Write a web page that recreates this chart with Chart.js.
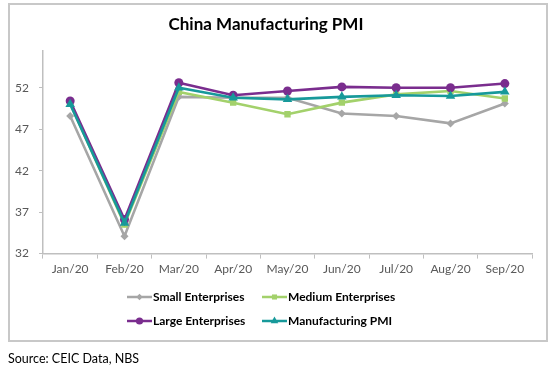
<!DOCTYPE html>
<html><head><meta charset="utf-8">
<script src="https://cdn.jsdelivr.net/npm/chart.js@4"></script>
<style>
html,body{margin:0;padding:0;background:#fff;}
#wrap{position:absolute;left:0;top:0;width:558px;height:373px;}
#box{position:absolute;left:8px;top:3px;width:536px;height:335px;border:2px solid #c8c8c8;}
#src{position:absolute;left:8px;top:351px;font-family:Lato,"Open Sans",sans-serif;font-size:12.5px;color:#000;}
canvas{position:absolute;left:0;top:0;}
</style></head>
<body>
<div id="wrap">
<div id="box"></div>
<canvas id="c" width="558" height="373"></canvas>
<div id="src">Source: CEIC Data, NBS</div>
</div>
<script>
const categories = ["Jan/20","Feb/20","Mar/20","Apr/20","May/20","Jun/20","Jul/20","Aug/20","Sep/20"];
const smallEnt = [48.6,34.1,50.9,50.8,50.8,48.9,48.6,47.7,50.1];
const mediumEnt = [50.1,35.5,51.5,50.2,48.8,50.2,51.2,51.6,50.7];
const largeEnt = [50.4,36.1,52.6,51.1,51.6,52.1,52.0,52.0,52.5];
const mfgPMI = [50.0,35.7,52.0,50.8,50.6,50.9,51.1,51.0,51.5];
const yTicks = [32,37,42,47,52];
const titleText = "China Manufacturing PMI";

const FONT = 'Lato, "Open Sans", sans-serif';
const series = [
  {label:"Small Enterprises", data:smallEnt, color:"#a6a6a6", style:"rectRot", r:4, order:4},
  {label:"Medium Enterprises", data:mediumEnt, color:"#a3d16b", style:"rect", r:4.5, order:3},
  {label:"Large Enterprises", data:largeEnt, color:"#7a2d8e", style:"circle", r:4.5, order:2},
  {label:"Manufacturing PMI", data:mfgPMI, color:"#17999a", style:"triangle", r:5.5, order:1}
];

const legendPlugin = {
  id:'customLegend',
  afterDraw(chart){
    const ctx = chart.ctx;
    const pos = [[127,297],[262,297],[127,321],[262,321]];
    series.forEach((s,i)=>{
      const [x,y] = pos[i];
      ctx.save();
      ctx.strokeStyle = s.color; ctx.lineWidth = 2.5;
      ctx.beginPath(); ctx.moveTo(x,y); ctx.lineTo(x+25,y); ctx.stroke();
      ctx.fillStyle = s.color;
      Chart.helpers.drawPoint(ctx,{pointStyle:s.style,radius:s.r*0.8,borderWidth:0,rotation:0},x+12.5,y);
      ctx.fillStyle = '#000';
      ctx.font = 'bold 12px ' + FONT;
      ctx.textBaseline = 'middle';
      ctx.fillText(s.label, x+26, y+0.5);
      ctx.restore();
    });
  }
};

new Chart(document.getElementById('c'),{
  type:'line',
  data:{
    labels:categories,
    datasets:series.map(s=>({
      label:s.label, data:s.data, borderColor:s.color, backgroundColor:s.color,
      borderWidth:2.6, pointStyle:s.style, pointRadius:s.r, pointBorderWidth:0,
      pointBackgroundColor:s.color, tension:0, order:s.order
    }))
  },
  options:{
    responsive:false, animation:false, devicePixelRatio:1,
    layout:{padding:{left:0,right:26,top:12,bottom:94}},
    plugins:{
      legend:{display:false}, tooltip:{enabled:false},
      title:{display:true,text:titleText,color:'#000',font:{family:FONT,size:17,weight:'bold'},padding:{top:2,bottom:16}}
    },
    scales:{
      x:{
        offset:true,
        grid:{display:true,drawOnChartArea:false,offset:true,tickLength:5,color:'#bfbfbf',lineWidth:1},
        border:{color:'#bfbfbf',width:1.5},
        ticks:{color:'#595959',font:{family:FONT,size:12},padding:3,maxRotation:0}
      },
      y:{
        min:32,max:56.5,
        afterBuildTicks(scale){scale.ticks = yTicks.map(v=>({value:v}));},
        afterFit(scale){scale.width = 43;},
        grid:{display:true,drawOnChartArea:false,tickLength:4,color:'#bfbfbf'},
        border:{color:'#bfbfbf',width:1.5},
        ticks:{color:'#595959',font:{family:FONT,size:12},padding:10}
      }
    }
  },
  plugins:[legendPlugin]
});
</script>
</body></html>
